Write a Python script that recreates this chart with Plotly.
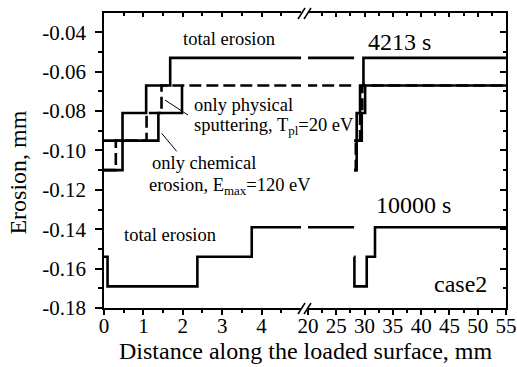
import plotly.graph_objects as go

# ---------------- data (x in mm, erosion in mm) ----------------
# 4213 s, left segment (0 .. 5 mm)
tot4213_left_x = [0, 0.47, 0.47, 1.07, 1.07, 1.68, 1.68, 5.3]
tot4213_left_y = [-0.110, -0.110, -0.081, -0.081, -0.067, -0.067, -0.053, -0.053]
phys4213_left_x = [0, 0.30, 0.30, 1.08, 1.08, 1.46, 1.46, 5.3]
phys4213_left_y = [-0.110, -0.110, -0.095, -0.095, -0.081, -0.081, -0.067, -0.067]
chem4213_left_x = [0, 1.38, 1.38, 1.98, 1.98]
chem4213_left_y = [-0.095, -0.095, -0.081, -0.081, -0.067]

# 4213 s, right segment (20 .. 55 mm)
tot4213_gap_x = [19.5, 28.15]
tot4213_gap_y = [-0.053, -0.053]
phys4213_gap_x = [19.5, 28.15]
phys4213_gap_y = [-0.067, -0.067]
tot4213_right_x = [28.15, 28.60, 28.60, 29.20, 29.20, 29.80, 29.80, 55]
tot4213_right_y = [-0.110, -0.110, -0.081, -0.081, -0.067, -0.067, -0.053, -0.053]
phys4213_right_x = [28.15, 28.45, 28.45, 29.20, 29.20, 29.60, 29.60, 55]
phys4213_right_y = [-0.110, -0.110, -0.095, -0.095, -0.081, -0.081, -0.067, -0.067]
chem4213_right_x = [28.15, 29.50, 29.50, 30.10, 30.10, 55]
chem4213_right_y = [-0.095, -0.095, -0.081, -0.081, -0.067, -0.067]

# 10000 s
tot10000_left_x = [0, 0.09, 0.09, 2.37, 2.37, 3.75, 3.75, 5.3]
tot10000_left_y = [-0.154, -0.154, -0.169, -0.169, -0.154, -0.154, -0.139, -0.139]
tot10000_gap_x = [19.5, 28.15]
tot10000_gap_y = [-0.139, -0.139]
tot10000_right_x = [28.15, 28.20, 28.20, 30.38, 30.38, 31.84, 31.84, 55]
tot10000_right_y = [-0.154, -0.154, -0.169, -0.169, -0.154, -0.154, -0.139, -0.139]

# ticks
xl_ticks = [0, 1, 2, 3, 4]
xl_ticktext = ["0", "1", "2", "3", "4"]
xl_minor = [0.5, 1.5, 2.5, 3.5, 4.5]
xr_ticks = [20, 25, 30, 35, 40, 45, 50, 55]
xr_ticktext = ["20", "25", "30", "35", "40", "45", "50", "55"]
xr_minor = [22.5, 27.5, 32.5, 37.5, 42.5, 47.5, 52.5]
y_ticks = [-0.18, -0.16, -0.14, -0.12, -0.10, -0.08, -0.06, -0.04]
y_ticktext = ["-0.18", "-0.16", "-0.14", "-0.12", "-0.10", "-0.08", "-0.06", "-0.04"]
y_minor = [-0.17, -0.15, -0.13, -0.11, -0.09, -0.07, -0.05, -0.03]

FONT = "Liberation Serif"
TICKFONT_FAMILY = "Liberation Serif, Times New Roman, serif"
LW = 2.6

fig = go.Figure()

def add(x, y, xa, dash="solid"):
    fig.add_trace(go.Scatter(x=x, y=y, mode="lines", xaxis=xa, yaxis="y",
                             line=dict(color="black", width=LW, dash=dash),
                             showlegend=False, hoverinfo="skip"))

add(chem4213_left_x, chem4213_left_y, "x")
add(tot4213_left_x, tot4213_left_y, "x")
add(phys4213_left_x, phys4213_left_y, "x", "12px,5px")
add(tot10000_left_x, tot10000_left_y, "x")

add(tot4213_gap_x, tot4213_gap_y, "x2")
add(phys4213_gap_x, phys4213_gap_y, "x2", "12px,5px")
add(chem4213_right_x, chem4213_right_y, "x2")
add(tot4213_right_x, tot4213_right_y, "x2")
add(phys4213_right_x, phys4213_right_y, "x2", "12px,5px")
add(tot10000_gap_x, tot10000_gap_y, "x2")
add(tot10000_right_x, tot10000_right_y, "x2")

# empty traces so the mirror axes are drawn
fig.add_trace(go.Scatter(x=[], y=[], xaxis="x3", yaxis="y", showlegend=False))
fig.add_trace(go.Scatter(x=[], y=[], xaxis="x4", yaxis="y", showlegend=False))
fig.add_trace(go.Scatter(x=[], y=[], xaxis="x2", yaxis="y2", showlegend=False))

tickfont = dict(family=TICKFONT_FAMILY, size=21, color="black")
common = dict(showline=True, linecolor="black", linewidth=1.5, showgrid=False,
              zeroline=False, tickcolor="black", tickwidth=1.5)

XL_DOM = [0, 0.490]
XR_DOM = [0.5075, 1]
XL_RANGE = [0, 5.0]
XR_RANGE = [20, 55]
Y_RANGE = [-0.18, -0.0302]

fig.update_layout(
    template="none",
    width=517, height=367,
    margin=dict(l=104, r=11, t=13, b=59),
    paper_bgcolor="white", plot_bgcolor="white",
    font=dict(family=FONT, size=21, color="black"),
    xaxis=dict(domain=XL_DOM, range=XL_RANGE, anchor="y", ticks="outside", ticklen=5,
               tickvals=xl_ticks, ticktext=xl_ticktext, tickfont=tickfont,
               ticklabelstandoff=-7,
               minor=dict(tickvals=xl_minor, ticks="outside", ticklen=3,
                          tickcolor="black", tickwidth=1.5, showgrid=False),
               **common),
    xaxis2=dict(domain=XR_DOM, range=XR_RANGE, anchor="y", ticks="outside", ticklen=5,
                tickvals=xr_ticks, ticktext=xr_ticktext, tickfont=tickfont,
                ticklabelstandoff=-7,
                minor=dict(tickvals=xr_minor, ticks="outside", ticklen=3,
                           tickcolor="black", tickwidth=1.5, showgrid=False),
                **common),
    xaxis3=dict(overlaying="x", side="top", range=XL_RANGE, anchor="y", ticks="inside",
                ticklen=4, tickvals=xl_ticks, showticklabels=False,
                minor=dict(tickvals=xl_minor, ticks="inside", ticklen=3,
                           tickcolor="black", tickwidth=1.5, showgrid=False),
                **common),
    xaxis4=dict(overlaying="x2", side="top", range=XR_RANGE, anchor="y", ticks="inside",
                ticklen=4, tickvals=xr_ticks, showticklabels=False,
                minor=dict(tickvals=xr_minor, ticks="inside", ticklen=3,
                           tickcolor="black", tickwidth=1.5, showgrid=False),
                **common),
    yaxis=dict(domain=[0, 1], range=Y_RANGE, anchor="x", side="left", ticks="outside",
               ticklen=7, tickvals=y_ticks, ticktext=y_ticktext, tickfont=tickfont,
               ticklabelstandoff=5,
               minor=dict(tickvals=y_minor, ticks="outside", ticklen=4,
                          tickcolor="black", tickwidth=1.5, showgrid=False),
               **common),
    yaxis2=dict(overlaying="y", side="right", range=Y_RANGE, anchor="x2", ticks="inside",
                ticklen=6, tickvals=y_ticks, showticklabels=False,
                minor=dict(tickvals=y_minor, ticks="inside", ticklen=3,
                           tickcolor="black", tickwidth=1.5, showgrid=False),
                **common),
)

# axis break marks "//"
BREAK_X = 0.4988
for yanc in (0, 1):
    for dx in (-6.5, -0.5):
        fig.add_shape(type="line", xref="paper", yref="paper",
                      xsizemode="pixel", ysizemode="pixel",
                      xanchor=BREAK_X, yanchor=yanc,
                      x0=dx, x1=dx + 7, y0=-6, y1=5,
                      line=dict(color="black", width=1.5))

# leader lines from the labels to the curves
for hx, hy, dx, dy in ((1.548, -0.0744, 23, -15), (1.464, -0.0913, 15, -18)):
    fig.add_shape(type="line", xref="x", yref="y",
                  xsizemode="pixel", ysizemode="pixel",
                  xanchor=hx, yanchor=hy, x0=0, y0=0, x1=dx, y1=dy,
                  line=dict(color="black", width=1))

def txt(s, x, y, size, xanchor="center"):
    fig.add_annotation(text=s, x=x, y=y, xref="paper", yref="paper",
                       xanchor=xanchor, yanchor="middle", showarrow=False,
                       font=dict(family=FONT, size=size, color="black"))

txt("total erosion", 0.311, 0.911, 18.5)
txt("4213 s", 0.736, 0.903, 24)
txt("only physical", 0.218, 0.688, 18.5, "left")
txt("sputtering, T<sub>pl</sub>=20 eV", 0.218, 0.616, 18.5, "left")
txt("only chemical", 0.1144, 0.4925, 18.5, "left")
txt("erosion, E<sub>max</sub>=120 eV", 0.106, 0.413, 18.5, "left")
txt("total erosion", 0.044, 0.247, 18.5, "left")
txt("10000 s", 0.770, 0.349, 24)
txt("case2", 0.886, 0.081, 24)

# axis titles
fig.add_annotation(text="Distance along the loaded surface, mm", x=0.5025, y=-0.145,
                   xref="paper", yref="paper", showarrow=False, xanchor="center",
                   yanchor="middle", font=dict(family=FONT, size=24, color="black"))
fig.add_annotation(text="Erosion, mm", x=-0.214, y=0.459, xref="paper", yref="paper",
                   showarrow=False, textangle=-90, xanchor="center", yanchor="middle",
                   font=dict(family=FONT, size=24, color="black"))

fig.write_html("out.html")
